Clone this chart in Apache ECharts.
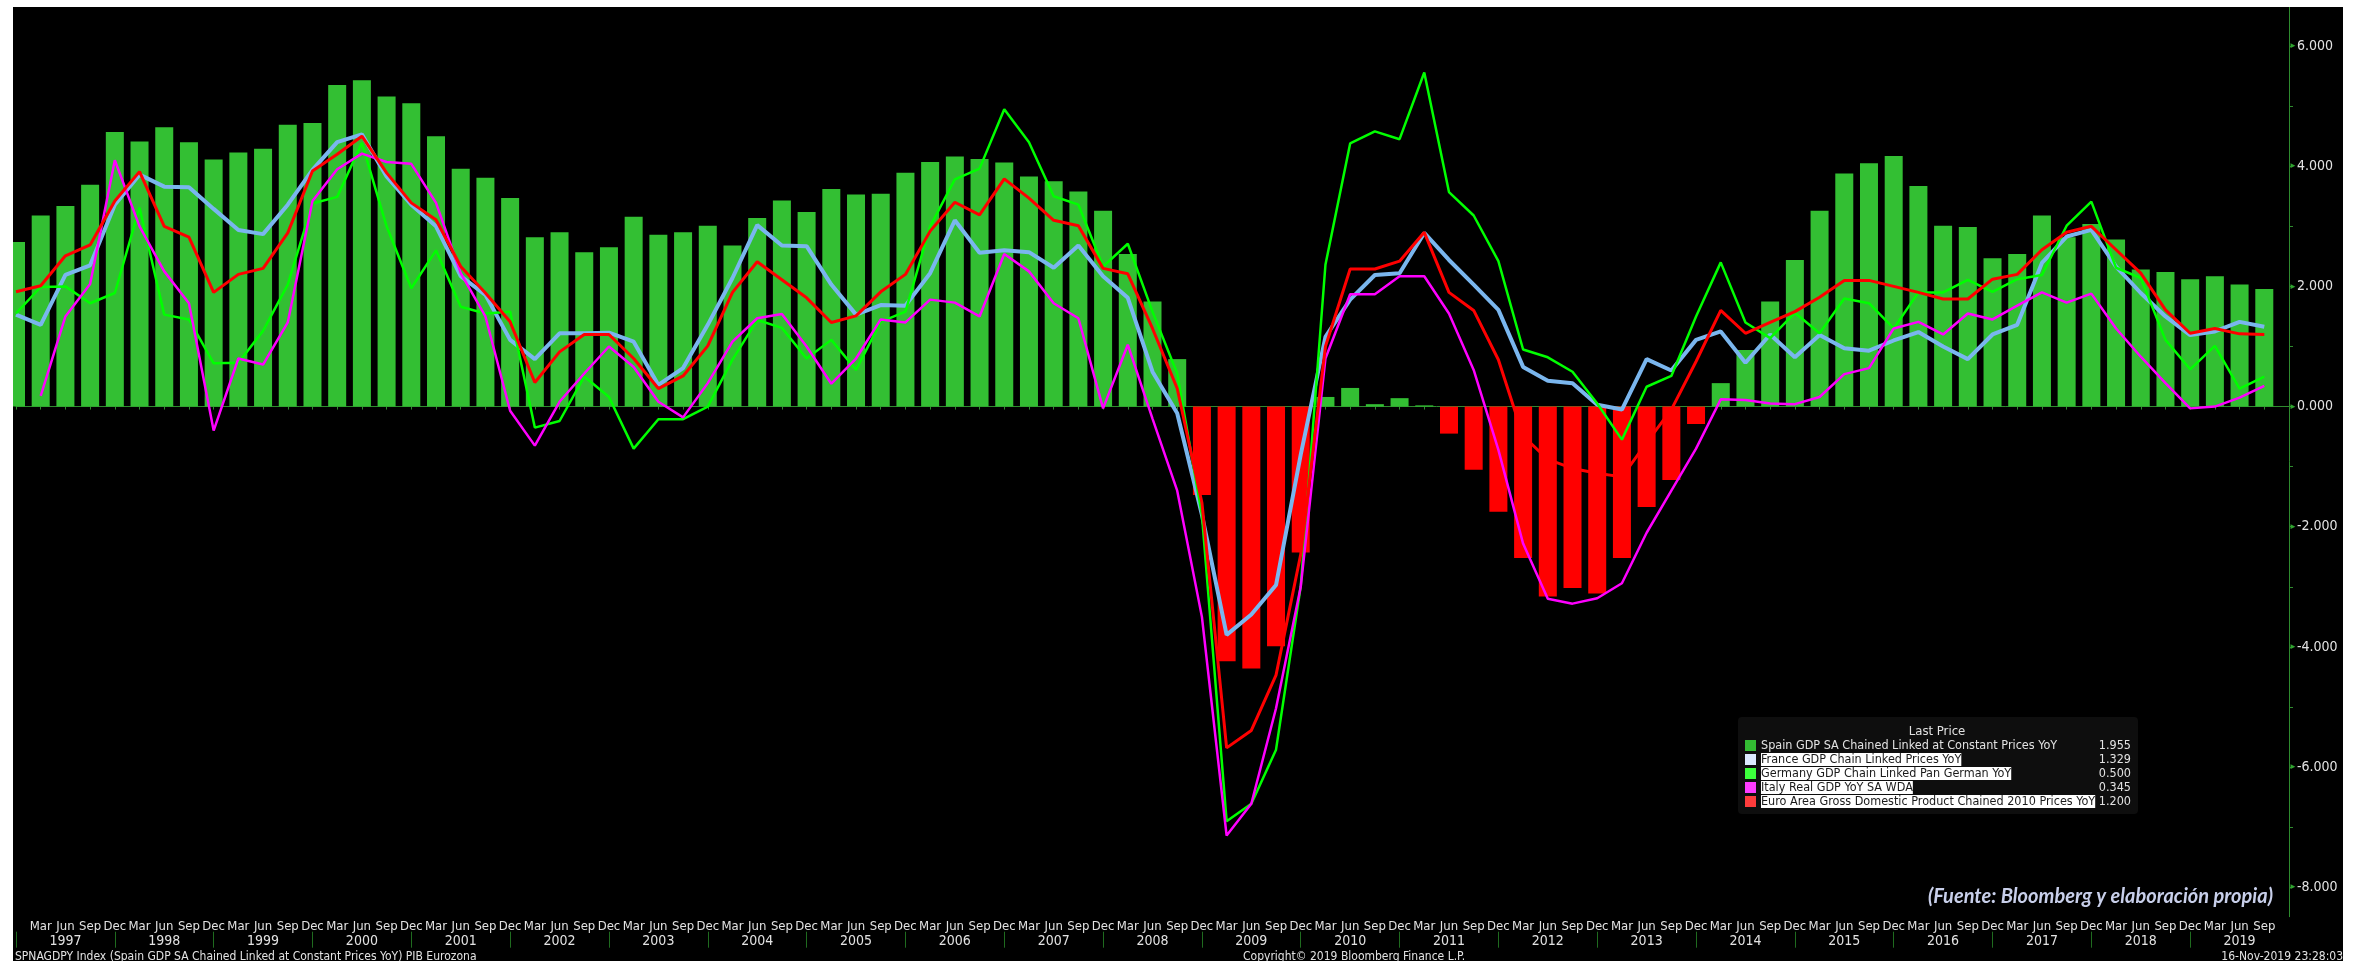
<!DOCTYPE html>
<html>
<head>
<meta charset="utf-8">
<title>PIB Eurozona</title>
<script src="https://cdn.jsdelivr.net/npm/echarts@6/dist/echarts.min.js"></script>
<style>
html, body { margin: 0; padding: 0; background: #fff; }
#chart { position: absolute; left: 13px; top: 7px; width: 2330px; height: 954px; background: #000; }
</style>
</head>
<body>
<div id="chart"></div>
<script>
// quarters Dec 1996 .. Sep 2019 (axis runs on to Dec 2019)
const months = ['Mar', 'Jun', 'Sep', 'Dec']
const years = []
for (let y = 1997; y <= 2019; y++) years.push(y)
const categories = ['Dec 1996']
years.forEach(y => months.forEach(m => categories.push(m + ' ' + y)))

const spainName = 'Spain GDP SA Chained Linked at Constant Prices YoY'
const franceName = 'France GDP Chain Linked Prices YoY'
const germanyName = 'Germany GDP Chain Linked Pan German YoY'
const italyName = 'Italy Real GDP YoY SA WDA'
const euroName = 'Euro Area Gross Domestic Product Chained 2010 Prices YoY'

const spain = [
  2.74, 3.18, 3.34, 3.69, 4.57, 4.41, 4.65, 4.40, 4.11, 4.23,
  4.29, 4.69, 4.72, 5.35, 5.43, 5.16, 5.05, 4.50, 3.96, 3.81,
  3.47, 2.82, 2.90, 2.57, 2.65, 3.16, 2.86, 2.90, 3.01, 2.68,
  3.14, 3.43, 3.24, 3.62, 3.53, 3.54, 3.89, 4.07, 4.16, 4.12,
  4.06, 3.83, 3.75, 3.58, 3.26, 2.54, 1.75, 0.79, -1.47, -4.24,
  -4.36, -3.99, -2.43, 0.16, 0.31, 0.04, 0.14, 0.02, -0.45, -1.05,
  -1.75, -2.52, -3.16, -3.02, -3.11, -2.52, -1.67, -1.22, -0.29, 0.39,
  0.94, 1.75, 2.44, 3.26, 3.88, 4.05, 4.17, 3.67, 3.01, 2.99,
  2.47, 2.54, 3.18, 2.82, 3.04, 2.78, 2.28, 2.24, 2.12, 2.17,
  2.03, 1.955
]
const france = [
  1.53, 1.36, 2.19, 2.35, 3.36, 3.86, 3.66, 3.65, 3.29, 2.94,
  2.87, 3.36, 3.94, 4.40, 4.53, 3.83, 3.36, 3.00, 2.17, 1.86,
  1.11, 0.79, 1.22, 1.22, 1.23, 1.08, 0.36, 0.64, 1.36, 2.14,
  3.02, 2.68, 2.67, 2.03, 1.53, 1.69, 1.68, 2.22, 3.10, 2.56,
  2.60, 2.57, 2.31, 2.68, 2.17, 1.81, 0.58, -0.11, -1.80, -3.80,
  -3.46, -2.97, -0.80, 1.16, 1.78, 2.19, 2.22, 2.89, 2.44, 2.03,
  1.61, 0.66, 0.43, 0.39, 0.03, -0.05, 0.79, 0.60, 1.11, 1.25,
  0.73, 1.20, 0.82, 1.19, 0.97, 0.93, 1.10, 1.24, 1.00, 0.79,
  1.20, 1.36, 2.39, 2.83, 2.94, 2.33, 1.89, 1.50, 1.19, 1.25,
  1.41, 1.329
]
const germany = [
  1.55, 1.99, 2.00, 1.72, 1.89, 3.31, 1.53, 1.45, 0.72, 0.73,
  1.26, 2.03, 3.38, 3.49, 4.39, 3.00, 1.97, 2.60, 1.66, 1.55,
  1.58, -0.35, -0.24, 0.50, 0.16, -0.70, -0.21, -0.21, 0.00, 0.78,
  1.44, 1.31, 0.80, 1.11, 0.61, 1.41, 1.58, 3.00, 3.78, 3.96,
  4.95, 4.40, 3.50, 3.36, 2.33, 2.71, 1.58, 0.55, -1.80, -6.90,
  -6.61, -5.71, -2.99, 2.36, 4.38, 4.58, 4.45, 5.56, 3.57, 3.18,
  2.42, 0.95, 0.82, 0.58, 0.05, -0.55, 0.33, 0.51, 1.50, 2.40,
  1.40, 1.14, 1.56, 1.22, 1.80, 1.72, 1.30, 1.90, 1.90, 2.11,
  1.91, 2.12, 2.19, 3.01, 3.41, 2.31, 2.14, 1.11, 0.62, 1.01,
  0.30, 0.500
]
const italy = [
  null, 0.18, 1.50, 2.04, 4.10, 3.00, 2.25, 1.72, -0.40, 0.80,
  0.70, 1.40, 3.42, 3.95, 4.21, 4.07, 4.04, 3.39, 2.22, 1.50,
  -0.07, -0.65, 0.08, 0.55, 1.00, 0.66, 0.08, -0.18, 0.39, 1.08,
  1.47, 1.54, 1.00, 0.38, 0.80, 1.45, 1.40, 1.78, 1.73, 1.50,
  2.54, 2.25, 1.72, 1.47, -0.03, 1.03, -0.20, -1.40, -3.50, -7.14,
  -6.61, -5.02, -3.00, 0.80, 1.87, 1.87, 2.17, 2.17, 1.55, 0.61,
  -0.72, -2.28, -3.20, -3.28, -3.19, -2.94, -2.10, -1.40, -0.70, 0.12,
  0.11, 0.05, 0.04, 0.16, 0.54, 0.64, 1.30, 1.41, 1.20, 1.55,
  1.45, 1.68, 1.90, 1.73, 1.88, 1.30, 0.83, 0.39, -0.03, 0.00,
  0.15, 0.345
]
const euro = [
  1.91, 2.01, 2.51, 2.69, 3.42, 3.91, 3.00, 2.82, 1.90, 2.20,
  2.30, 2.89, 3.92, 4.20, 4.50, 3.89, 3.39, 3.11, 2.33, 1.89,
  1.41, 0.40, 0.91, 1.20, 1.20, 0.80, 0.30, 0.51, 1.01, 1.90,
  2.41, 2.11, 1.81, 1.40, 1.51, 1.91, 2.20, 2.92, 3.40, 3.19,
  3.79, 3.47, 3.10, 3.01, 2.30, 2.21, 1.30, 0.30, -1.60, -5.68,
  -5.39, -4.47, -2.46, 1.00, 2.29, 2.29, 2.42, 2.90, 1.90, 1.60,
  0.78, -0.49, -0.88, -1.03, -1.11, -1.17, -0.60, -0.05, 0.75, 1.60,
  1.22, 1.40, 1.58, 1.82, 2.10, 2.10, 2.00, 1.90, 1.79, 1.79,
  2.12, 2.20, 2.61, 2.90, 3.00, 2.61, 2.22, 1.61, 1.22, 1.30,
  1.21, 1.200
]

const yLabelValues = [-8, -6, -4, -2, 0, 2, 4, 6]
const yTickValues = [-8, -7, -6, -5, -4, -3, -2, -1, 0, 1, 2, 3, 4, 5, 6]

const font = "'Liberation Sans Narrow', 'DejaVu Sans Condensed', 'Arial Narrow', sans-serif"
const axisGreen = '#2e8b2e'
const textGrey = '#e2e2e2'

const lastValue = {}
;[[spainName, spain], [franceName, france], [germanyName, germany], [italyName, italy], [euroName, euro]]
  .forEach(p => { lastValue[p[0]] = p[1][p[1].length - 1].toFixed(3) })

let myChart = echarts.init(document.getElementById('chart'))
let option = {
  backgroundColor: '#000',
  animation: false,
  grid: { left: 0, right: 54, top: 0, bottom: 44.3, containLabel: false },
  legend: {
    orient: 'vertical',
    left: 1725,
    top: 710,
    padding: [22, 7, 6, 7],
    backgroundColor: '#0e0e0e',
    borderRadius: 4,
    icon: 'rect',
    itemWidth: 11,
    itemHeight: 11,
    itemGap: 1,
    selectedMode: false,
    z: 10,
    data: [
      { name: spainName, itemStyle: { color: '#33bb33' } },
      { name: franceName, itemStyle: { color: '#dbe9ff' } },
      { name: germanyName, itemStyle: { color: '#3cff3c' } },
      { name: italyName, itemStyle: { color: '#ff3cff' } },
      { name: euroName, itemStyle: { color: '#ff3c3c' } }
    ],
    formatter: function (name) {
      let style = name === spainName ? 'n' : 'h'
      return '{' + style + '|' + name + '}{v|' + lastValue[name] + '}'
    },
    textStyle: {
      width: 370,
      fontFamily: font,
      fontSize: 12.5,
      rich: {
        n: { color: textGrey, fontFamily: font, fontSize: 12.5, lineHeight: 14 },
        h: { color: '#1a1a1a', backgroundColor: '#ffffff', fontFamily: font, fontSize: 12.5, lineHeight: 14 },
        v: { color: textGrey, fontFamily: font, fontSize: 12.5, lineHeight: 14, align: 'right' }
      }
    }
  },
  xAxis: [
    {
      type: 'category',
      data: categories,
      boundaryGap: false,
      position: 'bottom',
      axisLine: { lineStyle: { color: axisGreen, width: 1 } },
      axisTick: { show: true, interval: 0, length: 3, lineStyle: { color: axisGreen } },
      axisLabel: {
        interval: 0,
        margin: 3.5,
        color: textGrey,
        fontFamily: font,
        fontSize: 13,
        formatter: function (v, i) {
          if (i === 0 || i === categories.length - 1) return ''
          return v.split(' ')[0]
        }
      },
      splitLine: { show: false }
    },
    {
      type: 'category',
      data: categories,
      boundaryGap: false,
      position: 'bottom',
      offset: 15,
      axisLine: { show: false },
      axisTick: {
        show: true,
        length: 16,
        interval: function (i, v) { return v.indexOf('Dec') === 0 && i < categories.length - 1 },
        lineStyle: { color: '#1f6b1f' }
      },
      axisLabel: {
        interval: function (i, v) { return v.indexOf('Jun') === 0 },
        margin: 2.3,
        color: textGrey,
        fontFamily: font,
        fontSize: 14,
        formatter: function (v) { return v.split(' ')[1] }
      },
      splitLine: { show: false }
    }
  ],
  yAxis: {
    type: 'value',
    position: 'right',
    min: -8.49,
    max: 6.65,
    axisLine: { show: true, lineStyle: { color: axisGreen } },
    axisTick: { show: true, customValues: yTickValues, length: 4, lineStyle: { color: axisGreen } },
    axisLabel: {
      customValues: yLabelValues,
      margin: 0,
      formatter: function (v) { return '{t|\u25BA}{n|' + v.toFixed(3) + '}' },
      rich: {
        t: { color: '#2fa32f', fontSize: 8 },
        n: { color: textGrey, fontFamily: font, fontSize: 14 }
      }
    },
    splitLine: { show: false }
  },
  series: [
    {
      name: spainName,
      type: 'bar',
      data: spain,
      barWidth: 18,
      itemStyle: {
        color: function (p) { return p.value < 0 ? '#ff0000' : '#33bf33' }
      },
      z: 1
    },
    {
      name: franceName,
      type: 'line',
      data: france,
      symbol: 'none',
      itemStyle: { color: '#7ab6ee' },
      lineStyle: { color: '#7ab6ee', width: 4 },
      z: 2
    },
    {
      name: germanyName,
      type: 'line',
      data: germany,
      symbol: 'none',
      itemStyle: { color: '#00ff00' },
      lineStyle: { color: '#00ff00', width: 2.5 },
      z: 3
    },
    {
      name: italyName,
      type: 'line',
      data: italy,
      symbol: 'none',
      itemStyle: { color: '#ff00ff' },
      lineStyle: { color: '#ff00ff', width: 2.5 },
      z: 4
    },
    {
      name: euroName,
      type: 'line',
      data: euro,
      symbol: 'none',
      itemStyle: { color: '#ff0000' },
      lineStyle: { color: '#ff0000', width: 3 },
      z: 5
    }
  ],
  graphic: [
    { type: 'text', z: 100, x: 1924, y: 725, style: { text: 'Last Price', align: 'center', verticalAlign: 'middle', fill: textGrey, fontFamily: font, fontSize: 13 } },
    { type: 'text', z: 100, x: 2260, y: 889.5, style: { text: '(Fuente: Bloomberg y elaboración propia)', align: 'right', verticalAlign: 'middle', fill: '#c8cfea', fontFamily: 'Lato', fontStyle: 'italic', fontWeight: 'bold', fontSize: 20 } },
    { type: 'text', z: 100, x: 2, y: 949.7, style: { text: 'SPNAGDPY Index (Spain GDP SA Chained Linked at Constant Prices YoY) PIB Eurozona', align: 'left', verticalAlign: 'middle', fill: textGrey, fontFamily: font, fontSize: 12 } },
    { type: 'text', z: 100, x: 1230, y: 949.7, style: { text: 'Copyright\u00A9 2019 Bloomberg Finance L.P.', align: 'left', verticalAlign: 'middle', fill: textGrey, fontFamily: font, fontSize: 12 } },
    { type: 'text', z: 100, x: 2330, y: 949.7, style: { text: '16-Nov-2019 23:28:03', align: 'right', verticalAlign: 'middle', fill: textGrey, fontFamily: font, fontSize: 12 } }
  ]
}
myChart.setOption(option)
window.addEventListener('resize', function () {
  myChart.resize()
})
</script>
</body>
</html>
